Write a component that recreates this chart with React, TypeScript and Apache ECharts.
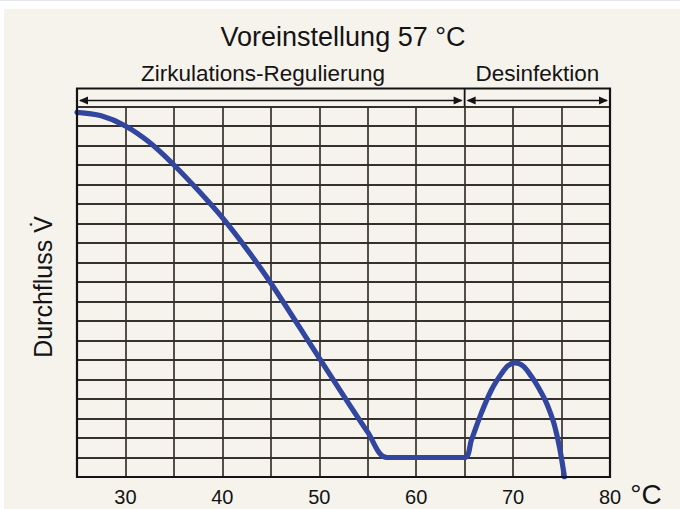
import React, { useEffect, useRef } from "react";
import * as echarts from "echarts";

// Temperature axis (°C)
const xTickLabels = [30, 40, 50, 60, 70, 80];
// Flow curve (x in °C, y in grid units, 0 = bottom frame)
const curveX = [25, 27.5, 30, 32.5, 35, 37.5, 40, 42.5, 45, 50, 55, 57, 61, 65, 65.7, 66.7, 67.75, 68.8, 69.5, 70.2, 71, 71.9, 72.6, 73.3, 73.8, 74.3, 74.8, 75.3];
const curveY = [18.7, 18.52, 18.0, 17.15, 16.0, 14.7, 13.3, 11.7, 9.95, 6.1, 2.3, 1.0, 1.0, 1.0, 1.9, 3.25, 4.45, 5.3, 5.72, 5.85, 5.7, 5.15, 4.6, 3.95, 3.35, 2.6, 1.5, 0];

const titleText = "Voreinstellung 57 °C";
const rangeLabels = ["Zirkulations-Regulierung", "Desinfektion"];
const rangeBounds = [25, 65, 80];
const yAxisLabel = "Durchfluss V\u0307";
const unitLabel = "°C";

export default function App() {
  const ref = useRef<HTMLDivElement>(null);

  useEffect(() => {
    const el = ref.current;
    if (!el) return;
    const chart = echarts.init(el, null, { renderer: "svg" });
    const font = "'Liberation Sans', Arial, Helvetica, sans-serif";
    const gridColor = "#37312d";
    const ink = "#141414";

    chart.setOption({
      animation: false,
      backgroundColor: "transparent",
      grid: { left: 77, right: 70, top: 106.5, bottom: 32, containLabel: false },
      xAxis: {
        type: "value",
        min: 25,
        max: 80,
        interval: 5,
        axisLine: { show: false },
        axisTick: { show: false },
        splitLine: { show: true, lineStyle: { color: gridColor, width: 1.7 } },
        axisLabel: {
          formatter: (v: number) => (xTickLabels.includes(v) ? String(v) : ""),
          fontSize: 20,
          color: ink,
          fontFamily: font,
          margin: 20,
          verticalAlign: "middle",
          showMinLabel: true,
          showMaxLabel: true,
        },
      },
      yAxis: {
        type: "value",
        min: 0,
        max: 19,
        interval: 1,
        axisLine: { show: false },
        axisTick: { show: false },
        axisLabel: { show: false },
        splitLine: { show: true, lineStyle: { color: gridColor, width: 1.8 } },
      },
      series: [
        {
          type: "line",
          data: curveX.map((x, i) => [x, curveY[i]]),
          symbol: "none",
          showSymbol: false,
          smooth: 0.35,
          clip: true,
          z: 5,
          lineStyle: { color: "#3246a0", width: 5.2, cap: "round", join: "round" },
        },
      ],
    });

    const p = (x: number, y: number) => chart.convertToPixel({ gridIndex: 0 }, [x, y]) as number[];
    const [xL, yTop] = p(rangeBounds[0], 19);
    const [xM] = p(rangeBounds[1], 19);
    const [xR, yBot] = p(rangeBounds[2], 0);
    const stripTop = yTop - 18;
    const arrowY = yTop - 6;
    const head = 9;
    const hh = 4;
    const arrow = (a: number, b: number) => [
      { type: "line", z: 100, shape: { x1: a + 3, y1: arrowY, x2: b - 3, y2: arrowY }, style: { stroke: ink, lineWidth: 1.6 } },
      { type: "polygon", z: 100, shape: { points: [[a + 2, arrowY], [a + 2 + head, arrowY - hh], [a + 2 + head, arrowY + hh]] }, style: { fill: ink } },
      { type: "polygon", z: 100, shape: { points: [[b - 2, arrowY], [b - 2 - head, arrowY - hh], [b - 2 - head, arrowY + hh]] }, style: { fill: ink } },
    ];

    chart.setOption({
      graphic: [
        {
          type: "rect",
          z: 100,
          shape: { x: xL, y: stripTop, width: xR - xL, height: yBot - stripTop },
          style: { fill: "none", stroke: ink, lineWidth: 2.2 },
        },
        { type: "line", z: 100, shape: { x1: xM, y1: stripTop, x2: xM, y2: yTop }, style: { stroke: ink, lineWidth: 1.8 } },
        ...arrow(xL, xM),
        ...arrow(xM, xR),
        {
          type: "text",
          z: 100,
          x: 343,
          y: 37,
          style: { text: titleText, fontSize: 27, fontFamily: font, fill: ink, align: "center", verticalAlign: "middle" },
        },
        {
          type: "text",
          z: 100,
          x: 263,
          y: 73,
          style: { text: rangeLabels[0], fontSize: 22.5, fontFamily: font, fill: ink, align: "center", verticalAlign: "middle" },
        },
        {
          type: "text",
          z: 100,
          x: (xM + xR) / 2,
          y: 73,
          style: { text: rangeLabels[1], fontSize: 22.5, fontFamily: font, fill: ink, align: "center", verticalAlign: "middle" },
        },
        {
          type: "text",
          z: 100,
          x: 43,
          y: 287,
          rotation: Math.PI / 2,
          style: { text: yAxisLabel, fontSize: 25, fontFamily: font, fill: ink, align: "center", verticalAlign: "middle" },
        },
        {
          type: "text",
          z: 100,
          x: 646,
          y: 494,
          style: { text: unitLabel, fontSize: 28, fontFamily: font, fill: ink, align: "center", verticalAlign: "middle" },
        },
      ],
    });

    return () => {
      chart.dispose();
    };
  }, []);

  return (
    <div style={{ position: "fixed", left: 0, top: 0, width: 680, height: 509, background: "#ffffff", overflow: "hidden" }}>
      <div style={{ position: "absolute", left: 0, top: 0, width: 680, height: 1, background: "#e4e7eb" }} />
      <div style={{ position: "absolute", left: 4, top: 9, right: 0, bottom: 0, background: "#f6f3ec" }} />
      <div ref={ref} style={{ position: "absolute", left: 0, top: 0, width: 680, height: 509 }} />
    </div>
  );
}
